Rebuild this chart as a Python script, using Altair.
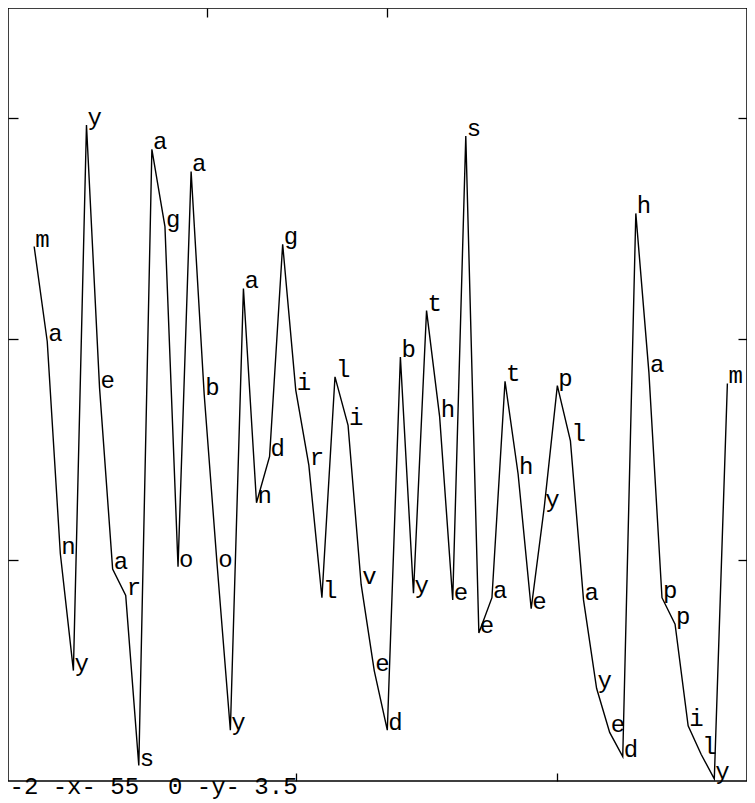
import altair as alt
import pandas as pd

letters = list("manyyearsagoaboyandgirllivedbytheseatheyplayedhappilym")
values = [2.42, 1.99, 1.03, 0.50, 2.97, 1.78, 0.96, 0.84, 0.07, 2.86,
          2.51, 0.97, 2.76, 1.75, 0.97, 0.23, 2.23, 1.26, 1.47, 2.43,
          1.77, 1.43, 0.83, 1.83, 1.61, 0.89, 0.50, 0.23, 1.92, 0.85,
          2.13, 1.65, 0.82, 2.92, 0.67, 0.83, 1.81, 1.39, 0.78, 1.24,
          1.79, 1.54, 0.82, 0.42, 0.22, 0.11, 2.57, 1.85, 0.83, 0.71,
          0.25, 0.12, 0.01, 1.80]
x_domain = [-2, 54.5]
y_domain = [0, 3.5]
y_ticks = [1, 2, 3]
bottom_ticks = [20, 40]
top_ticks = [13.2, 27]
caption = "-2 -x- 55\u00a0\u00a00 -y- 3.5"

df = pd.DataFrame({"i": list(range(len(letters))), "v": values, "ch": letters})

FONT = "Liberation Mono"
xs = alt.Scale(domain=x_domain, nice=False, zero=False)
ys = alt.Scale(domain=y_domain, nice=False, zero=False)

line = alt.Chart(df).mark_line(color="black", strokeWidth=1.4).encode(
    x=alt.X("i:Q", scale=xs,
            axis=alt.Axis(orient="bottom", values=bottom_ticks, labels=False,
                          domain=False, grid=False, tickSize=8, offset=-8,
                          tickColor="black", tickWidth=1.3,
                          title=caption, titleFont=FONT, titleFontSize=24,
                          titleFontWeight="normal", titleColor="black",
                          titleAnchor="start", titleAlign="left",
                          titleBaseline="alphabetic", titleX=1, titleY=20)),
    y=alt.Y("v:Q", scale=ys,
            axis=alt.Axis(orient="left", values=y_ticks, labels=False,
                          domain=False, grid=False, tickSize=10, offset=-10,
                          tickColor="black", tickWidth=1.3, title=None)),
)

text = alt.Chart(df).mark_text(font=FONT, fontSize=24, align="left",
                               baseline="alphabetic", dx=1, color="black").encode(
    x=alt.X("i:Q", scale=xs,
            axis=alt.Axis(orient="top", values=top_ticks, labels=False,
                          domain=False, grid=False, tickSize=9, offset=-9,
                          tickColor="black", tickWidth=1.3, title=None)),
    y=alt.Y("v:Q", scale=ys,
            axis=alt.Axis(orient="right", values=y_ticks, labels=False,
                          domain=False, grid=False, tickSize=9, offset=-9,
                          tickColor="black", tickWidth=1.3, title=None)),
    text="ch:N",
)

chart = alt.layer(line, text).resolve_axis(x="independent", y="independent").properties(
    width=739, height=773,
    background="white",
    autosize=alt.AutoSizeParams(type="none"),
    padding={"left": 0, "top": 0, "right": 0, "bottom": 18},
).configure_view(stroke="black", strokeWidth=1.5)

chart.save("out.html", embed_options={"renderer": "svg", "actions": False})
